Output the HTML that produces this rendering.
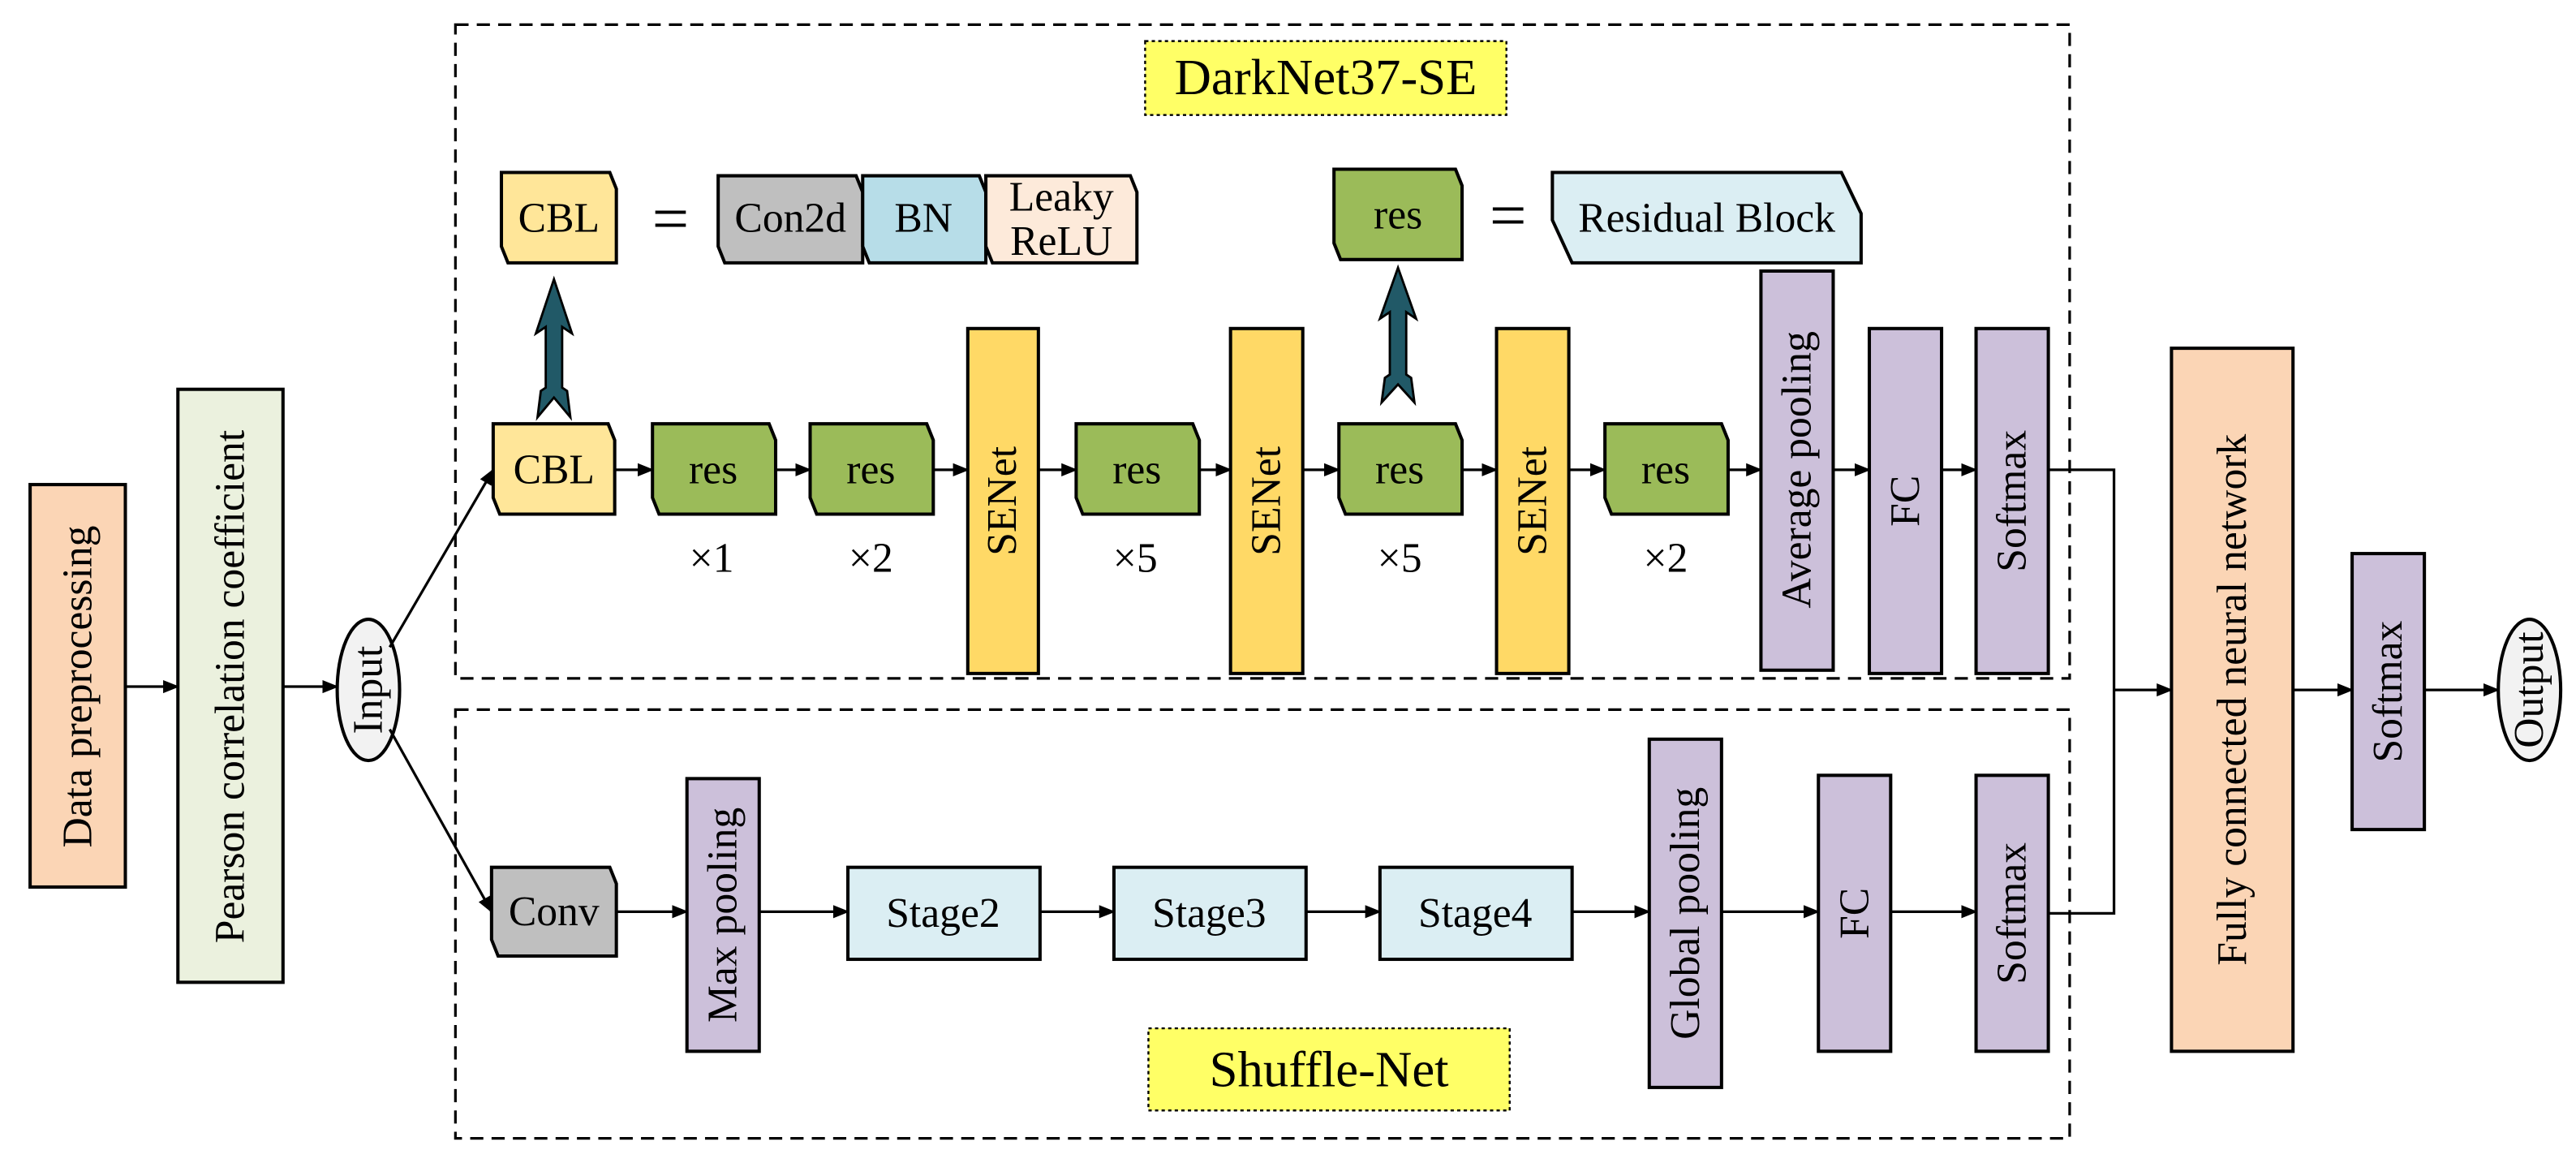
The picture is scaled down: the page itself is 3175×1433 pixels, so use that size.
<!DOCTYPE html>
<html><head><meta charset="utf-8"><style>html,body{margin:0;padding:0;background:#fff}svg{display:block}</style></head><body>
<svg width="3175" height="1433" viewBox="0 0 1568 708" xmlns="http://www.w3.org/2000/svg" style="font-family:'Liberation Serif',serif" font-size="25.5">
<defs>
<marker id="a" markerWidth="10" markerHeight="10" refX="9" refY="5" orient="auto" markerUnits="userSpaceOnUse"><path d="M0,1 L10,5 L0,9 Z" fill="#000"/></marker>
</defs>
<g stroke="#000" stroke-width="2">
<rect x="277" y="15" width="983" height="398" fill="none" stroke-dasharray="8,5" stroke-width="1.6"/>
<rect x="277" y="432" width="983" height="261" fill="none" stroke-dasharray="8,5" stroke-width="1.6"/>
<rect x="697" y="25" width="220" height="45" fill="#ffff66" stroke-dasharray="2,2" stroke-width="1.2"/>
<rect x="699" y="626" width="220" height="50" fill="#ffff66" stroke-dasharray="2,2" stroke-width="1.2"/>

<rect x="18" y="295" width="58" height="245" fill="#fbd5b5"/>
<rect x="108" y="237" width="64" height="361" fill="#ebf1de"/>
<ellipse cx="224" cy="420" rx="19" ry="43" fill="#f2f2f2"/>

<path d="M305,105 H371 L375,115 V160 H309 L305,150 Z" fill="#ffe699"/>
<path d="M437,107 H521 L525,117 V160 H441 L437,150 Z" fill="#bfbfbf"/>
<path d="M525,107 H596 L600,117 V160 H529 L525,150 Z" fill="#b7dde8"/>
<path d="M600,107 H688 L692,117 V160 H604 L600,150 Z" fill="#fdeada"/>
<path d="M812,103 H886 L890,113 V158 H816 L812,148 Z" fill="#9bbb59"/>
<path d="M945,105 H1121 L1133,130 V160 H957 L945,134 Z" fill="#dbeef3"/>

<path d="M300,258 H370 L374,268 V313 H304 L300,303 Z" fill="#ffe699"/>
<path d="M397,258 H468 L472,268 V313 H401 L397,303 Z" fill="#9bbb59"/>
<path d="M493,258 H564 L568,268 V313 H497 L493,303 Z" fill="#9bbb59"/>
<rect x="589" y="200" width="43" height="210" fill="#ffd966"/>
<path d="M655,258 H726 L730,268 V313 H659 L655,303 Z" fill="#9bbb59"/>
<rect x="749" y="200" width="44" height="210" fill="#ffd966"/>
<path d="M815,258 H886 L890,268 V313 H819 L815,303 Z" fill="#9bbb59"/>
<rect x="911" y="200" width="44" height="210" fill="#ffd966"/>
<path d="M977,258 H1048 L1052,268 V313 H981 L977,303 Z" fill="#9bbb59"/>
<rect x="1072" y="165" width="44" height="243" fill="#ccc0da"/>
<rect x="1138" y="200" width="44" height="210" fill="#ccc0da"/>
<rect x="1203" y="200" width="44" height="210" fill="#ccc0da"/>

<path d="M299,528 H371 L375,538 V582 H303 L299,572 Z" fill="#bfbfbf"/>
<rect x="418" y="474" width="44" height="166" fill="#ccc0da"/>
<rect x="516" y="528" width="117" height="56" fill="#dbeef3"/>
<rect x="678" y="528" width="117" height="56" fill="#dbeef3"/>
<rect x="840" y="528" width="117" height="56" fill="#dbeef3"/>
<rect x="1004" y="450" width="44" height="212" fill="#ccc0da"/>
<rect x="1107" y="472" width="44" height="168" fill="#ccc0da"/>
<rect x="1203" y="472" width="44" height="168" fill="#ccc0da"/>

<rect x="1322" y="212" width="74" height="428" fill="#fbd5b5"/>
<rect x="1432" y="337" width="44" height="168" fill="#ccc0da"/>
<ellipse cx="1540" cy="420" rx="19" ry="43" fill="#f2f2f2"/>
</g>

<g stroke="#000" stroke-width="1.6" fill="none" marker-end="url(#a)">
<line x1="76" y1="418" x2="108" y2="418"/>
<line x1="172" y1="418" x2="205" y2="418"/>
<line x1="237" y1="394" x2="300" y2="286"/>
<line x1="237" y1="444" x2="299" y2="555"/>
<line x1="374" y1="286" x2="397" y2="286"/>
<line x1="472" y1="286" x2="493" y2="286"/>
<line x1="568" y1="286" x2="589" y2="286"/>
<line x1="632" y1="286" x2="655" y2="286"/>
<line x1="730" y1="286" x2="749" y2="286"/>
<line x1="793" y1="286" x2="815" y2="286"/>
<line x1="890" y1="286" x2="911" y2="286"/>
<line x1="955" y1="286" x2="977" y2="286"/>
<line x1="1052" y1="286" x2="1072" y2="286"/>
<line x1="1116" y1="286" x2="1138" y2="286"/>
<line x1="1182" y1="286" x2="1203" y2="286"/>
<line x1="375" y1="555" x2="418" y2="555"/>
<line x1="462" y1="555" x2="516" y2="555"/>
<line x1="633" y1="555" x2="678" y2="555"/>
<line x1="795" y1="555" x2="840" y2="555"/>
<line x1="957" y1="555" x2="1004" y2="555"/>
<line x1="1048" y1="555" x2="1107" y2="555"/>
<line x1="1151" y1="555" x2="1203" y2="555"/>
<line x1="1287" y1="420" x2="1322" y2="420"/>
<line x1="1396" y1="420" x2="1432" y2="420"/>
<line x1="1476" y1="420" x2="1521" y2="420"/>
</g>
<path d="M1247,286 H1287 V556 H1247" stroke="#000" stroke-width="1.6" fill="none"/>

<g fill="#215967" stroke="#000" stroke-width="1.4">
<path d="M337,170 L348,203 L342,199 L342,236 L345,238 L347,254 L337,242 L327,254 L329,238 L332,236 L332,199 L326,203 Z"/>
<path d="M851,163 L862,194 L856,190 L856,228 L859,230 L861,245 L851,234 L841,245 L843,230 L846,228 L846,190 L840,194 Z"/>
</g>

<g text-anchor="middle" dominant-baseline="central" fill="#000">
<text x="807" y="47" font-size="31">DarkNet37-SE</text>
<text x="809" y="651" font-size="31">Shuffle-Net</text>
<text x="340" y="133">CBL</text>
<text x="408" y="133" font-size="40">=</text>
<text x="481" y="133">Con2d</text>
<text x="562" y="133">BN</text>
<text x="646" y="120">Leaky</text>
<text x="646" y="147">ReLU</text>
<text x="851" y="131">res</text>
<text x="918" y="131" font-size="40">=</text>
<text x="1039" y="133">Residual Block</text>
<text x="337" y="286">CBL</text>
<text x="434" y="286">res</text>
<text x="530" y="286">res</text>
<text x="692" y="286">res</text>
<text x="852" y="286">res</text>
<text x="1014" y="286">res</text>
<text x="433" y="340">×1</text>
<text x="530" y="340">×2</text>
<text x="691" y="340">×5</text>
<text x="852" y="340">×5</text>
<text x="1014" y="340">×2</text>
<text x="337" y="555">Conv</text>
<text x="574" y="556">Stage2</text>
<text x="736" y="556">Stage3</text>
<text x="898" y="556">Stage4</text>
<text transform="translate(47,418) rotate(-90)">Data preprocessing</text>
<text transform="translate(140,418) rotate(-90)">Pearson correlation coefficient</text>
<text transform="translate(224,420) rotate(-90)">Input</text>
<text transform="translate(610,305) rotate(-90)">SENet</text>
<text transform="translate(771,305) rotate(-90)">SENet</text>
<text transform="translate(933,305) rotate(-90)">SENet</text>
<text transform="translate(1094,286) rotate(-90)">Average pooling</text>
<text transform="translate(1160,305) rotate(-90)">FC</text>
<text transform="translate(1225,305) rotate(-90)">Softmax</text>
<text transform="translate(440,557) rotate(-90)">Max pooling</text>
<text transform="translate(1026,556) rotate(-90)">Global pooling</text>
<text transform="translate(1129,556) rotate(-90)">FC</text>
<text transform="translate(1225,556) rotate(-90)">Softmax</text>
<text transform="translate(1359,426) rotate(-90)">Fully connected neural network</text>
<text transform="translate(1454,421) rotate(-90)">Softmax</text>
<text transform="translate(1540,420) rotate(-90)">Output</text>
</g>
</svg>
</body></html>
